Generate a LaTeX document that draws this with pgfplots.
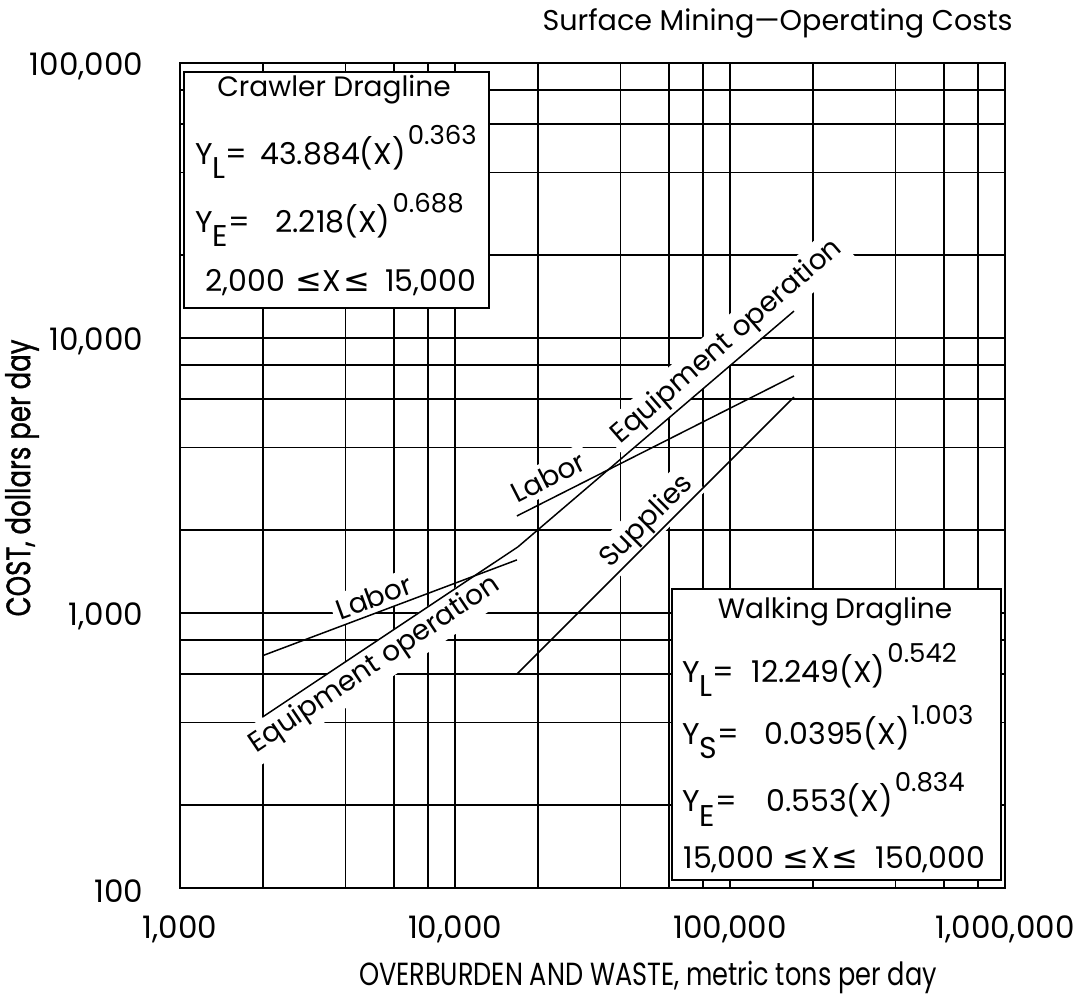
\documentclass[border=0pt]{standalone}
\usepackage{pgfplots}
\pgfplotsset{compat=1.18}
\usepackage{graphicx}
\usepackage{fontspec}
\setmainfont{Poppins}
\newfontfamily\heavyfont[FakeBold=1.2]{Poppins}
\newfontfamily\symfont{DejaVu Sans}

% place a point given in sheet units (1 unit = 0.5pt, origin at the top-left of the sheet)
\newcommand{\px}[2]{([shift={({(#1-180)*0.5pt},{(888-#2)*0.5pt})}]rel axis cs:0,0)}
\newcommand{\sub}[1]{\raisebox{-7pt}{#1}}
\newcommand{\sups}[1]{\kern1pt\raisebox{10pt}{\fontsize{13}{15}\selectfont #1}}
\newcommand{\lhs}[2]{\makebox[#1][l]{Y\sub{#2}=}}
\newcommand{\leqs}{{\symfont\fontsize{16}{17}\selectfont ≤}}

\begin{document}
\begin{tikzpicture}[
  curvelabel/.style={fill=white, inner sep=2.5pt, font=\fontsize{14}{16}\selectfont},
  boxtext/.style={anchor=base west, inner sep=0pt, font=\fontsize{15}{17}\selectfont},
  boxtitle/.style={anchor=base, inner sep=0pt, font=\fontsize{14}{16}\selectfont},
]
\path[use as bounding box] (-90pt,-57.5pt) rectangle (451pt,444pt);
\begin{axis}[
  at={(0pt,0pt)}, anchor=south west,
  scale only axis, width=412.5pt, height=412.5pt,
  xmode=log, ymode=log,
  xmin=1000, xmax=1000000, ymin=100, ymax=100000,
  clip=false,
  axis line style={line width=1.2pt},
  xtick={1000,10000,100000,1000000},
  xticklabels={1{,}000,10{,}000,100{,}000,1{,}000{,}000},
  ytick={100,1000,10000,100000},
  yticklabels={100,1{,}000,10{,}000,100{,}000},
  extra x ticks={2000,4000,6000,8000,20000,40000,60000,80000,200000,400000,600000,800000},
  extra y ticks={200,400,600,800,2000,4000,6000,8000,20000,40000,60000,80000},
  extra x tick labels={}, extra y tick labels={},
  extra tick style={grid=major},
  grid=major,
  major grid style={black, line width=0.9pt},
  major tick length=0pt, minor tick length=0pt,
  tick style={draw=none},
  tick label style={font=\fontsize{15.5}{17}\selectfont},
  xticklabel style={anchor=north, yshift=-10.5pt},
  yticklabel style={anchor=east, xshift=-14.8pt, yshift=-1.5pt},
]
% curve labels, set on white so the grid stops around them
\path \px{374}{597} node[curvelabel, rotate=20] {Labor};
\path \px{375}{665} node[curvelabel, rotate=34] {Equipment operation};
\path \px{548}{477} node[curvelabel, rotate=27] {Labor};
\path \px{727}{342} node[curvelabel, rotate=41] {Equipment operation};
\path \px{647}{522} node[curvelabel, rotate=45] {Supplies};

% crawler dragline, 2,000 to 15,000 t/d
\addplot[black, line width=0.75pt] coordinates {(2000,700) (16800,1560)};
\addplot[black, line width=0.75pt] coordinates {(2000,419) (16940,1740)};
% walking dragline, 15,000 to 150,000 t/d
\addplot[black, line width=0.75pt] coordinates {(16940,1740) (170900,12530)};
\addplot[black, line width=0.75pt] coordinates {(16800,2254) (170900,7280)};
\addplot[black, line width=0.75pt] coordinates {(16800,600) (170900,6100)};

% equation boxes
\path \px{336.5}{190} node[draw, line width=1pt, fill=white, minimum width=152.5pt, minimum height=118pt, inner sep=0pt] {};
\path \px{836.5}{734.5} node[draw, line width=1pt, fill=white, minimum width=164.5pt, minimum height=145.5pt, inner sep=0pt] {};

\path \px{334}{97} node[boxtitle] {Crawler Dragline};
\path \px{195}{165} node[boxtext] {\lhs{32.5pt}{L}43.884(X)\sups{0.363}};
\path \px{195}{233} node[boxtext] {\lhs{40pt}{E}2.218(X)\sups{0.688}};
\path \px{205}{292} node[boxtext] {2,000\kern5pt\leqs\kern0.5pt X\kern1pt\leqs\kern7.5pt 15,000};

\path \px{835}{619} node[boxtitle] {Walking\kern3pt Dragline};
\path \px{682}{683} node[boxtext] {\lhs{34.5pt}{L}12.249(X)\sups{0.542}};
\path \px{682}{745} node[boxtext] {\lhs{41pt}{S}0.0395(X)\sups{1.003}};
\path \px{682}{812} node[boxtext] {\lhs{42pt}{E}0.553(X)\sups{0.834}};
\path \px{683}{868} node[boxtext] {15,000\kern4pt\leqs\kern1pt X\kern1pt\leqs\kern8.5pt 150,000};

% titles
\path \px{1013}{31} node[anchor=base east, inner sep=0pt, font=\fontsize{14.3}{16}\selectfont] {Surface Mining—Operating Costs};
\path \px{648}{985} node[anchor=base, inner sep=0pt, font=\fontsize{12.8}{15}\selectfont] {\scalebox{1}[1.25]{OVERBURDEN AND WASTE, metric tons per day}};
\path \px{22}{478} node[rotate=90, inner sep=0pt, font=\fontsize{13}{15}\heavyfont] {\scalebox{1}[1.3]{COST, dollars per day}};
\end{axis}
\end{tikzpicture}
\end{document}
